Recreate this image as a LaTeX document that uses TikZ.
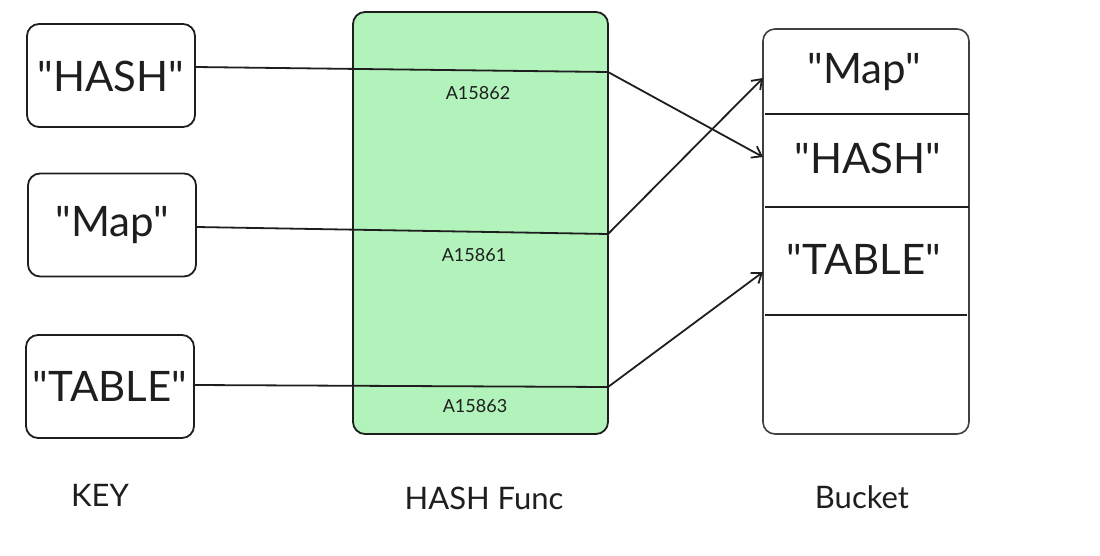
\documentclass[tikz,border=0pt]{standalone}
\usepackage{fontspec}
\setmainfont{Lato}[Ligatures=TeXOff]
\usetikzlibrary{arrows.meta}
\definecolor{ink}{HTML}{1E1E1E}
\definecolor{hashgreen}{HTML}{B2F2BB}
\begin{document}
\begin{tikzpicture}[x=1pt,y=-1pt,
  keybox/.style={draw=ink, line width=1.8pt, rounded corners=12pt, minimum width=168pt, minimum height=103pt, inner sep=0pt},
  bigtext/.style={text=ink, font=\fontsize{42}{42}\selectfont, inner sep=0pt},
  smalltext/.style={text=ink, font=\fontsize{18}{18}\selectfont, inner sep=0pt},
  captext/.style={text=ink, font=\fontsize{31}{31}\selectfont, inner sep=0pt},
  link/.style={draw=ink, line width=1.8pt},
  arrowlink/.style={link, -{Straight Barb[length=9pt,width=13pt,line width=1.8pt]}},
  divider/.style={draw=ink, line width=1.8pt}
]
\useasboundingbox (0,0) rectangle (1100,556);
% key boxes
\node[keybox] (k1) at (111,75.5) {};
\node[keybox] (k2) at (112,225) {};
\node[keybox] (k3) at (110,386.5) {};
\node[bigtext] (k1t) at (111,76) {"HASH"};
\node[bigtext] (k2t) at (112,225) {"Map"};
\node[bigtext] (k3t) at (110,386) {"TABLE"};
% hash function box
\node[draw=ink, fill=hashgreen, line width=1.8pt, rounded corners=12pt, minimum width=255pt, minimum height=422pt, inner sep=0pt] (hf) at (480.5,223) {};
\node[smalltext] (a1) at (478,93) {A15862};
\node[smalltext] (a2) at (474,255) {A15861};
\node[smalltext] (a3) at (475,406) {A15863};
% bucket
\node[draw=ink!85, line width=1.6pt, rounded corners=12pt, minimum width=206pt, minimum height=405pt, inner sep=0pt] (bk) at (866,231.5) {};
\coordinate (d1l) at (765,114); \coordinate (d1r) at (969,114);
\coordinate (d2l) at (765,207); \coordinate (d2r) at (969,207);
\coordinate (d3l) at (765,315); \coordinate (d3r) at (967,315);
\draw[divider] (d1l) -- (d1r);
\draw[divider] (d2l) -- (d2r);
\draw[divider] (d3l) -- (d3r);
\node[bigtext] (b1t) at (864,72) {"Map"};
\node[bigtext] (b2t) at (868,158) {"HASH"};
\node[bigtext] (b3t) at (864,259) {"TABLE"};
% connector points
\coordinate (k1o) at (195,67);
\coordinate (k2o) at (196,227);
\coordinate (k3o) at (194,385);
\coordinate (h1) at (608,72);
\coordinate (h2) at (608,234);
\coordinate (h3) at (608,387);
\coordinate (b1) at (763,78);
\coordinate (b2) at (763,157);
\coordinate (b3) at (763,272);
\draw[link] (k1o) -- (h1);
\draw[link] (k2o) -- (h2);
\draw[link] (k3o) -- (h3);
\draw[arrowlink] (h1) -- (b2);
\draw[arrowlink] (h2) -- (b1);
\draw[arrowlink] (h3) -- (b3);
% captions
\node[captext] (c1) at (100,495) {KEY};
\node[captext] (c2) at (484,498) {HASH Func};
\node[captext] (c3) at (862,497) {Bucket};
\end{tikzpicture}
\end{document}
